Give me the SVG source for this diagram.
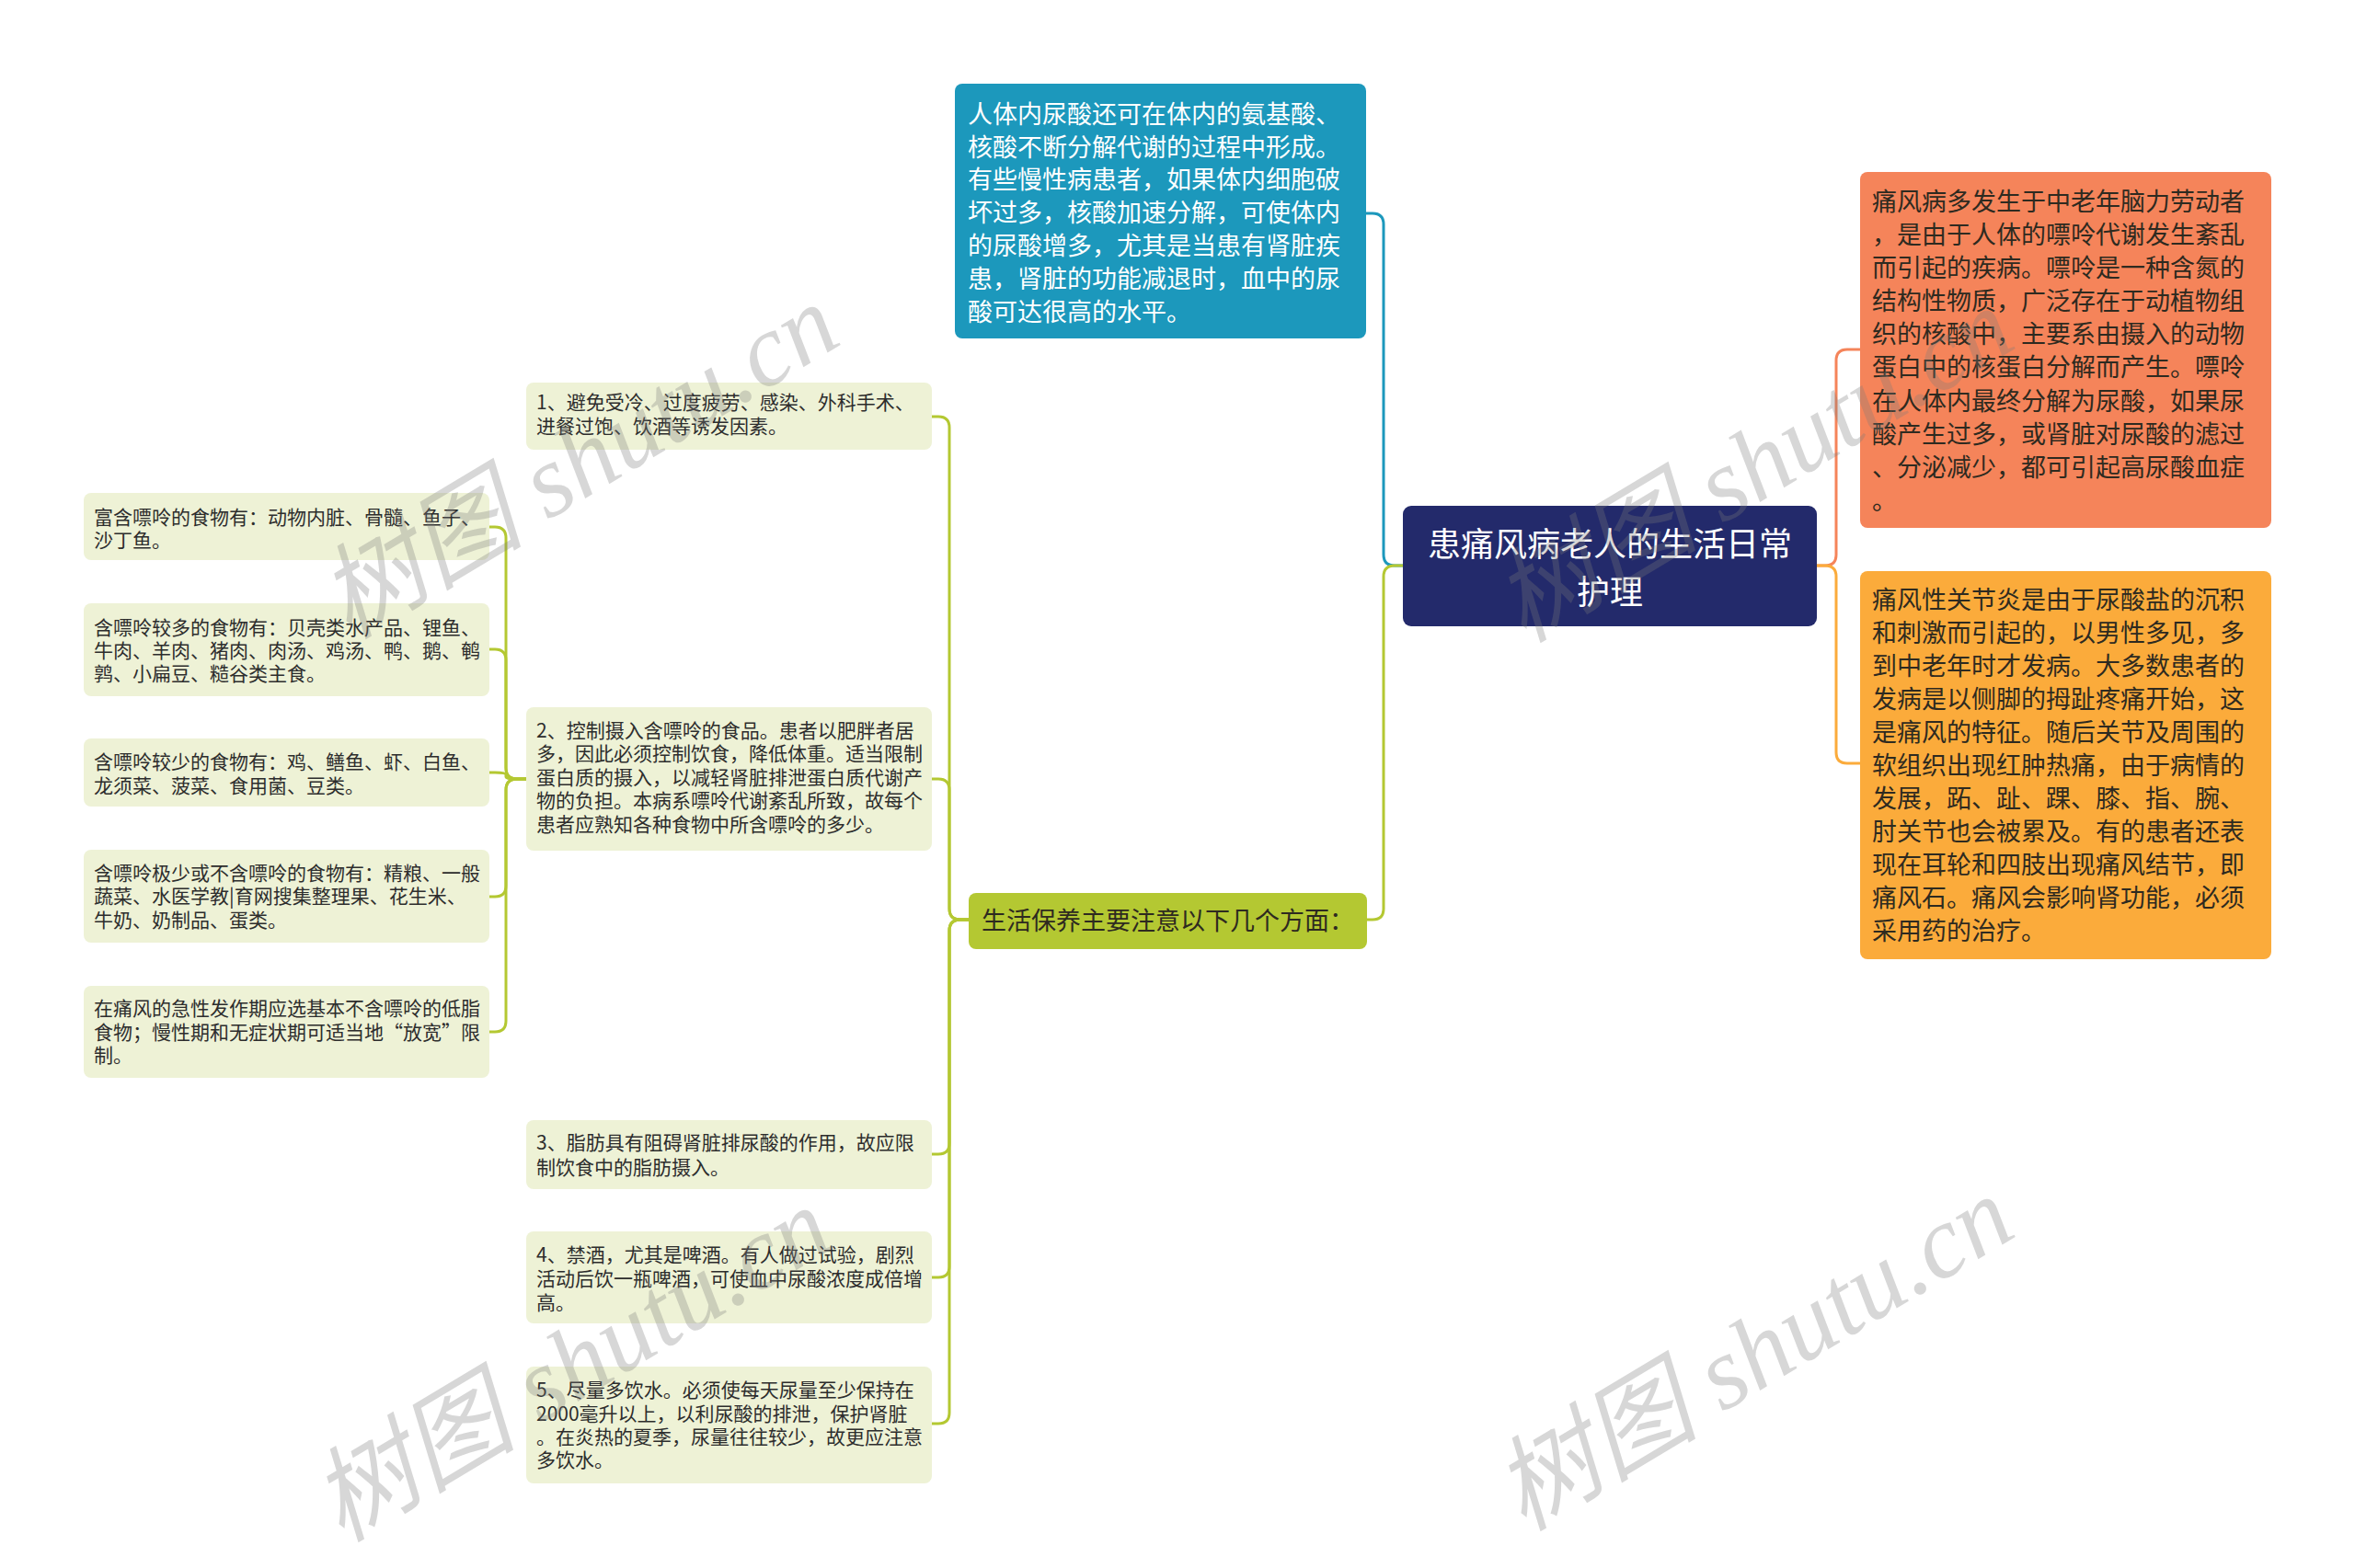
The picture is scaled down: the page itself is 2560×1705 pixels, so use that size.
<svg xmlns="http://www.w3.org/2000/svg" width="2560" height="1705" viewBox="0 0 2560 1705">
<style>
.cjk{font-family:"Noto Sans CJK SC","Noto Sans",sans-serif}
.t26{font-size:27px}
.t21{font-size:21px;fill:#2d2d2d}
.wht{fill:#ffffff}
.drk{fill:#2e2a20}
.lg{fill:#eef2d6}
.ln{fill:none;stroke-width:3;stroke-linecap:round;stroke-linejoin:round}
.wm{font-family:"Liberation Serif","Noto Sans CJK SC",serif;font-style:italic;font-size:112px;fill:#7a7a7a;fill-opacity:0.3}
</style>
<rect width="2560" height="1705" fill="#ffffff"/>
<g id="connectors">
<path class="ln" stroke="#1c98bc" d="M1525,615 H1516 Q1504,615 1504,603 V244 Q1504,232 1492,232 H1485"/>
<path class="ln" stroke="#b4c832" d="M1525,615 H1516 Q1504,615 1504,627 V988 Q1504,1000 1492,1000 H1486"/>
<path class="ln" stroke="#f5845a" d="M1975,615 H1984 Q1996,615 1996,603 V392 Q1996,380 2008,380 H2022"/>
<path class="ln" stroke="#fbab3b" d="M1975,615 H1984 Q1996,615 1996,627 V818 Q1996,830 2008,830 H2022"/>
<g stroke="#b4c832">
<path class="ln" d="M1053,1000 H1044 Q1032,1000 1032,988 V465 Q1032,453 1020,453 H1013"/>
<path class="ln" d="M1053,1000 H1044 Q1032,1000 1032,988 V859 Q1032,847 1020,847 H1013"/>
<path class="ln" d="M1053,1000 H1044 Q1032,1000 1032,1012 V1243 Q1032,1255 1020,1255 H1013"/>
<path class="ln" d="M1053,1000 H1044 Q1032,1000 1032,1012 V1377 Q1032,1389 1020,1389 H1013"/>
<path class="ln" d="M1053,1000 H1044 Q1032,1000 1032,1012 V1536 Q1032,1548 1020,1548 H1013"/>
<path class="ln" d="M572,847 H562 Q550,847 550,835 V585 Q550,573 538,573 H532"/>
<path class="ln" d="M572,847 H562 Q550,847 550,835 V718 Q550,706 538,706 H532"/>
<path class="ln" d="M572,847 H562 Q550,847 550,845 V842 Q550,840 538,840 H532"/>
<path class="ln" d="M572,847 H562 Q550,847 550,859 V963 Q550,975 538,975 H532"/>
<path class="ln" d="M572,847 H562 Q550,847 550,859 V1110 Q550,1122 538,1122 H532"/>
</g>
</g>
<g id="root">
<rect x="1525" y="550" width="450" height="131" rx="9" fill="#232a6b"/>
<text class="cjk wht" font-size="36" text-anchor="middle"><tspan x="1750" y="605">患痛风病老人的生活日常</tspan><tspan x="1750" y="657">护理</tspan></text>
</g>
<g id="node-blue">
<rect x="1038" y="91" width="447" height="277" rx="8" fill="#1c98bc"/>
<text class="cjk t26 wht"><tspan x="1052" y="134">人体内尿酸还可在体内的氨基酸、</tspan><tspan x="1052" y="170">核酸不断分解代谢的过程中形成。</tspan><tspan x="1052" y="205">有些慢性病患者，如果体内细胞破</tspan><tspan x="1052" y="241">坏过多，核酸加速分解，可使体内</tspan><tspan x="1052" y="277">的尿酸增多，尤其是当患有肾脏疾</tspan><tspan x="1052" y="313">患，肾脏的功能减退时，血中的尿</tspan><tspan x="1052" y="349">酸可达很高的水平。</tspan></text>
</g>
<g id="node-orange">
<rect x="2022" y="187" width="447" height="387" rx="8" fill="#f5845a"/>
<text class="cjk t26 drk"><tspan x="2035" y="229">痛风病多发生于中老年脑力劳动者</tspan><tspan x="2035" y="265">，是由于人体的嘌呤代谢发生紊乱</tspan><tspan x="2035" y="301">而引起的疾病。嘌呤是一种含氮的</tspan><tspan x="2035" y="337">结构性物质，广泛存在于动植物组</tspan><tspan x="2035" y="373">织的核酸中，主要系由摄入的动物</tspan><tspan x="2035" y="409">蛋白中的核蛋白分解而产生。嘌呤</tspan><tspan x="2035" y="446">在人体内最终分解为尿酸，如果尿</tspan><tspan x="2035" y="482">酸产生过多，或肾脏对尿酸的滤过</tspan><tspan x="2035" y="518">、分泌减少，都可引起高尿酸血症</tspan><tspan x="2035" y="554">。</tspan></text>
</g>
<g id="node-yellow">
<rect x="2022" y="621" width="447" height="422" rx="8" fill="#fbab3b"/>
<text class="cjk t26 drk"><tspan x="2035" y="662">痛风性关节炎是由于尿酸盐的沉积</tspan><tspan x="2035" y="698">和刺激而引起的，以男性多见，多</tspan><tspan x="2035" y="734">到中老年时才发病。大多数患者的</tspan><tspan x="2035" y="770">发病是以侧脚的拇趾疼痛开始，这</tspan><tspan x="2035" y="806">是痛风的特征。随后关节及周围的</tspan><tspan x="2035" y="842">软组织出现红肿热痛，由于病情的</tspan><tspan x="2035" y="878">发展，跖、趾、踝、膝、指、腕、</tspan><tspan x="2035" y="914">肘关节也会被累及。有的患者还表</tspan><tspan x="2035" y="950">现在耳轮和四肢出现痛风结节，即</tspan><tspan x="2035" y="986">痛风石。痛风会影响肾功能，必须</tspan><tspan x="2035" y="1022">采用药的治疗。</tspan></text>
</g>
<g id="node-green">
<rect x="1053" y="971" width="433" height="61" rx="8" fill="#b4c832"/>
<text class="cjk t26 drk" x="1067" y="1011">生活保养主要注意以下几个方面：</text>
</g>
<g id="item-1">
<rect class="lg" x="572" y="416" width="441" height="73" rx="8"/>
<text class="cjk t21"><tspan x="583" y="445">1、避免受冷、过度疲劳、感染、外科手术、</tspan><tspan x="583" y="471">进餐过饱、饮酒等诱发因素。</tspan></text>
</g>
<g id="item-2">
<rect class="lg" x="572" y="769" width="441" height="156" rx="8"/>
<text class="cjk t21"><tspan x="583" y="802">2、控制摄入含嘌呤的食品。患者以肥胖者居</tspan><tspan x="583" y="827">多，因此必须控制饮食，降低体重。适当限制</tspan><tspan x="583" y="853">蛋白质的摄入，以减轻肾脏排泄蛋白质代谢产</tspan><tspan x="583" y="878">物的负担。本病系嘌呤代谢紊乱所致，故每个</tspan><tspan x="583" y="904">患者应熟知各种食物中所含嘌呤的多少。</tspan></text>
</g>
<g id="item-3">
<rect class="lg" x="572" y="1218" width="441" height="75" rx="8"/>
<text class="cjk t21"><tspan x="583" y="1250">3、脂肪具有阻碍肾脏排尿酸的作用，故应限</tspan><tspan x="583" y="1277">制饮食中的脂肪摄入。</tspan></text>
</g>
<g id="item-4">
<rect class="lg" x="572" y="1339" width="441" height="100" rx="8"/>
<text class="cjk t21"><tspan x="583" y="1372">4、禁酒，尤其是啤酒。有人做过试验，剧烈</tspan><tspan x="583" y="1398">活动后饮一瓶啤酒，可使血中尿酸浓度成倍增</tspan><tspan x="583" y="1424">高。</tspan></text>
</g>
<g id="item-5">
<rect class="lg" x="572" y="1486" width="441" height="127" rx="8"/>
<text class="cjk t21"><tspan x="583" y="1519">5、尽量多饮水。必须使每天尿量至少保持在</tspan><tspan x="583" y="1545">2000毫升以上，以利尿酸的排泄，保护肾脏</tspan><tspan x="583" y="1570">。在炎热的夏季，尿量往往较少，故更应注意</tspan><tspan x="583" y="1595">多饮水。</tspan></text>
</g>
<g id="food-1">
<rect class="lg" x="91" y="536" width="441" height="73" rx="8"/>
<text class="cjk t21"><tspan x="102" y="570">富含嘌呤的食物有：动物内脏、骨髓、鱼子、</tspan><tspan x="102" y="595">沙丁鱼。</tspan></text>
</g>
<g id="food-2">
<rect class="lg" x="91" y="656" width="441" height="101" rx="8"/>
<text class="cjk t21"><tspan x="102" y="690">含嘌呤较多的食物有：贝壳类水产品、锂鱼、</tspan><tspan x="102" y="715">牛肉、羊肉、猪肉、肉汤、鸡汤、鸭、鹅、鹌</tspan><tspan x="102" y="740">鹑、小扁豆、糙谷类主食。</tspan></text>
</g>
<g id="food-3">
<rect class="lg" x="91" y="803" width="441" height="74" rx="8"/>
<text class="cjk t21"><tspan x="102" y="836">含嘌呤较少的食物有：鸡、鳝鱼、虾、白鱼、</tspan><tspan x="102" y="862">龙须菜、菠菜、食用菌、豆类。</tspan></text>
</g>
<g id="food-4">
<rect class="lg" x="91" y="924" width="441" height="101" rx="8"/>
<text class="cjk t21"><tspan x="102" y="957">含嘌呤极少或不含嘌呤的食物有：精粮、一般</tspan><tspan x="102" y="982">蔬菜、水医学教|育网搜集整理果、花生米、</tspan><tspan x="102" y="1008">牛奶、奶制品、蛋类。</tspan></text>
</g>
<g id="food-5">
<rect class="lg" x="91" y="1072" width="441" height="100" rx="8"/>
<text class="cjk t21"><tspan x="102" y="1104">在痛风的急性发作期应选基本不含嘌呤的低脂</tspan><tspan x="102" y="1130">食物；慢性期和无症状期可适当地“放宽”限</tspan><tspan x="102" y="1155">制。</tspan></text>
</g>
<g id="watermarks">
<text class="wm" x="628" y="540" text-anchor="middle" transform="rotate(-31 628 500)">树图 shutu.cn</text>
<text class="wm" x="1905" y="544" text-anchor="middle" transform="rotate(-31 1905 504)">树图 shutu.cn</text>
<text class="wm" x="620" y="1522" text-anchor="middle" transform="rotate(-31 620 1482)">树图 shutu.cn</text>
<text class="wm" x="1905" y="1510" text-anchor="middle" transform="rotate(-31 1905 1470)">树图 shutu.cn</text>
</g>
</svg>
